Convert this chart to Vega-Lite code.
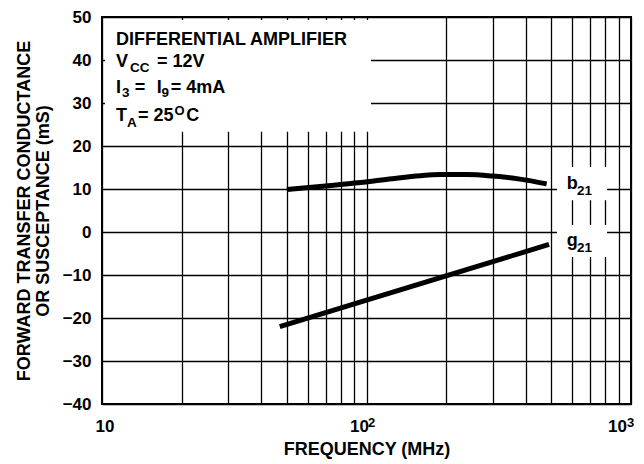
{
  "$schema": "https://vega.github.io/schema/vega-lite/v6.json",
  "width": 529,
  "height": 387,
  "autosize": "none",
  "padding": {"left": 102, "top": 17, "right": 13, "bottom": 60},
  "background": "white",
  "config": {
    "font": "Liberation Sans",
    "view": {"stroke": "black", "strokeWidth": 2},
    "axis": {
      "grid": true,
      "gridColor": "black",
      "gridOpacity": 1,
      "gridWidth": 1.3,
      "ticks": false,
      "domain": false,
      "labelFont": "Liberation Sans",
      "labelFontWeight": "bold",
      "labelFontSize": 17,
      "labelColor": "black",
      "labelOverlap": false,
      "labelFlush": false,
      "titleFont": "Liberation Sans",
      "titleFontWeight": "bold",
      "titleFontSize": 18,
      "titleColor": "black"
    }
  },
  "datasets": {
    "curves": [
      {"s": "b21", "f": 50, "v": 9.9},
      {"s": "b21", "f": 70, "v": 10.7},
      {"s": "b21", "f": 95, "v": 11.5},
      {"s": "b21", "f": 125, "v": 12.4},
      {"s": "b21", "f": 160, "v": 13.1},
      {"s": "b21", "f": 190, "v": 13.35},
      {"s": "b21", "f": 240, "v": 13.35},
      {"s": "b21", "f": 300, "v": 13.0},
      {"s": "b21", "f": 380, "v": 12.3},
      {"s": "b21", "f": 480, "v": 11.2},
      {"s": "g21", "f": 47, "v": -22.0},
      {"s": "g21", "f": 490, "v": -2.9}
    ],
    "boxes": [
      {"f": 10.26, "f2": 104, "v": 49.3, "v2": 23.3},
      {"f": 525, "f2": 812, "v": 15.1, "v2": 7.4},
      {"f": 525, "f2": 812, "v": 1.6, "v2": -5.8}
    ],
    "mainText": [
      {"t": "DIFFERENTIAL AMPLIFIER", "f": 11.29, "v": 43.5},
      {"t": "V", "f": 11.29, "v": 38.37},
      {"t": "= 12V", "f": 16.14, "v": 38.37},
      {"t": "I", "f": 11.29, "v": 32.33},
      {"t": "=", "f": 13.3, "v": 32.33},
      {"t": "I", "f": 16.1, "v": 32.33},
      {"t": "= 4mA", "f": 18.2, "v": 32.33},
      {"t": "T", "f": 11.29, "v": 25.81},
      {"t": "= 25", "f": 13.68, "v": 25.81},
      {"t": "C", "f": 20.8, "v": 25.81},
      {"t": "b", "f": 571, "v": 10.0},
      {"t": "g", "f": 571, "v": -3.26}
    ],
    "subText": [
      {"t": "CC", "f": 12.76, "v": 37.21},
      {"t": "3", "f": 11.9, "v": 31.4},
      {"t": "9", "f": 16.8, "v": 31.4},
      {"t": "A", "f": 12.43, "v": 24.42},
      {"t": "21", "f": 625, "v": 8.6},
      {"t": "21", "f": 625, "v": -4.65}
    ],
    "supText": [
      {"t": "O", "f": 18.8, "v": 27.21},
      {"t": "2", "f": 101.3, "v": -45.35},
      {"t": "3", "f": 966, "v": -45.35}
    ]
  },
  "encoding": {
    "x": {
      "field": "f",
      "type": "quantitative",
      "scale": {"type": "log", "domain": [10, 1000], "nice": false},
      "axis": {
        "values": [10, 20, 30, 40, 50, 60, 70, 80, 90, 100, 200, 300, 400, 500, 600, 700, 800, 900, 1000],
        "labelExpr": "datum.value == 10 || datum.value == 100 || datum.value == 1000 ? '10' : ''",
        "labelOffset": {
          "condition": [
            {"test": "datum.value == 1000", "value": -14},
            {"test": "datum.value == 100", "value": -7.5}
          ],
          "value": 2.5
        },
        "labelPadding": 14,
        "title": "FREQUENCY (MHz)",
        "titlePadding": 6
      }
    },
    "y": {
      "field": "v",
      "type": "quantitative",
      "scale": {"domain": [-40, 50], "nice": false, "zero": false},
      "axis": {
        "values": [-40, -30, -20, -10, 0, 10, 20, 30, 40, 50],
        "labelPadding": 11,
        "title": ["FORWARD TRANSFER CONDUCTANCE", "OR SUSCEPTANCE (mS)"],
        "titleLineHeight": 19,
        "titlePadding": 10
      }
    }
  },
  "layer": [
    {
      "data": {"name": "boxes"},
      "mark": {"type": "rect", "fill": "white", "strokeWidth": 0},
      "encoding": {
        "x2": {"field": "f2"},
        "y2": {"field": "v2"}
      }
    },
    {
      "data": {"name": "curves"},
      "mark": {"type": "line", "color": "black", "strokeWidth": 5, "strokeCap": "butt", "interpolate": "monotone"},
      "encoding": {
        "detail": {"field": "s", "type": "nominal"}
      }
    },
    {
      "data": {"name": "mainText"},
      "mark": {"type": "text", "align": "left", "baseline": "alphabetic", "fontSize": 18, "fontWeight": "bold", "color": "black", "font": "Liberation Sans"},
      "encoding": {
        "text": {"field": "t", "type": "nominal"}
      }
    },
    {
      "data": {"name": "subText"},
      "mark": {"type": "text", "align": "left", "baseline": "alphabetic", "fontSize": 13.5, "fontWeight": "bold", "color": "black", "font": "Liberation Sans"},
      "encoding": {
        "text": {"field": "t", "type": "nominal"}
      }
    },
    {
      "data": {"name": "supText"},
      "mark": {"type": "text", "align": "left", "baseline": "alphabetic", "fontSize": 13, "fontWeight": "bold", "color": "black", "font": "Liberation Sans"},
      "encoding": {
        "text": {"field": "t", "type": "nominal"}
      }
    }
  ]
}
